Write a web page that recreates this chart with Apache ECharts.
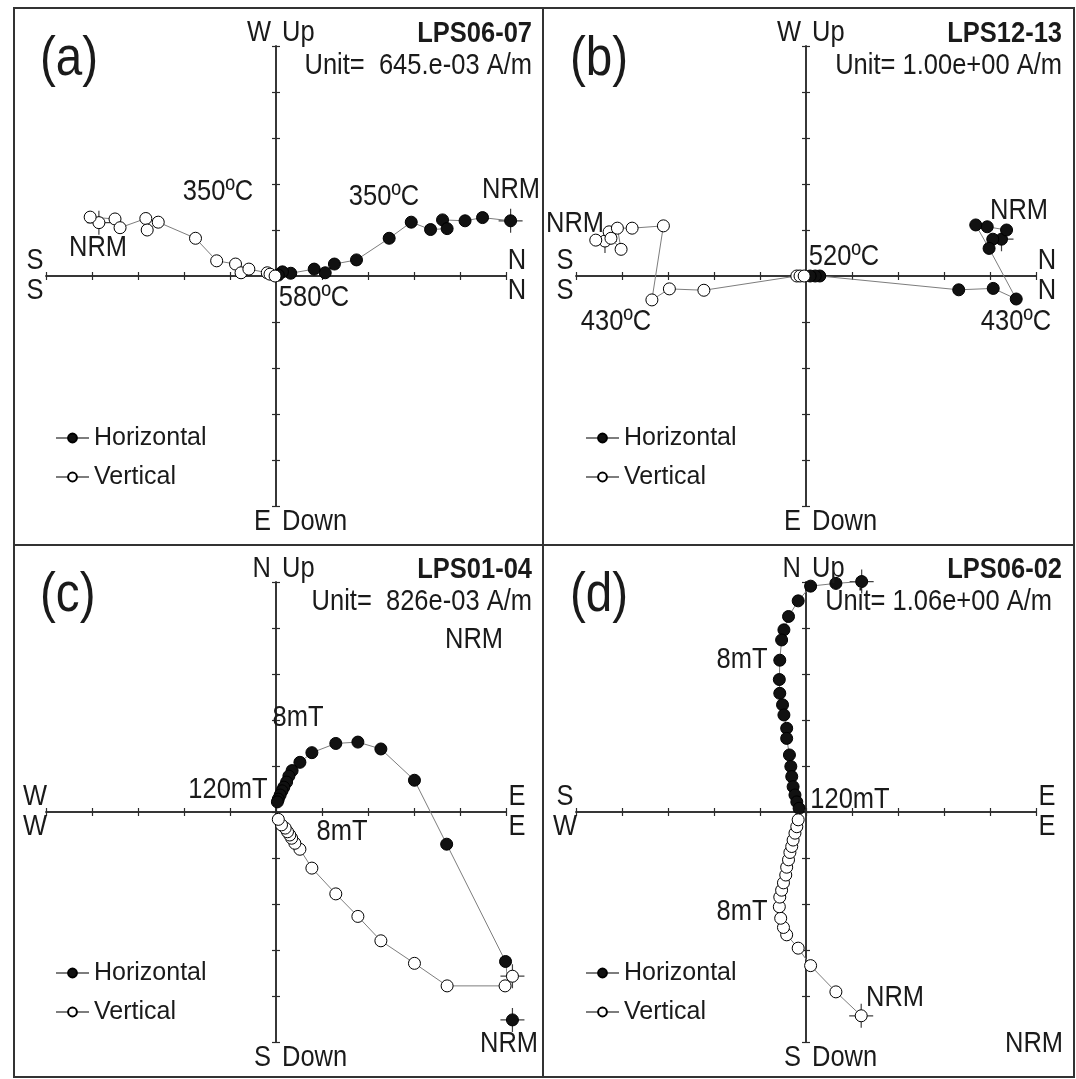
<!DOCTYPE html>
<html><head><meta charset="utf-8">
<script src="https://cdn.jsdelivr.net/npm/echarts@6/dist/echarts.min.js"></script>
<style>html,body{margin:0;padding:0;background:#fff}#c{width:1076px;height:1079px}</style>
</head><body><div id="c"></div>
<script>
const FONT = "'Liberation Sans',Arial,sans-serif";

// Panel (a) LPS06-07 : values in axis tick units
const aHoriz = [[5.10,1.20],[4.49,1.27],[4.11,1.20],[3.62,1.22],[3.72,1.03],[3.36,1.01],[2.94,1.17],[2.46,0.82],[1.75,0.35],[1.27,0.26],[1.07,0.07],[0.83,0.15],[0.32,0.06],[0.14,0.09],[0.05,0.02]];
const aVert  = [[-3.85,1.16],[-4.04,1.28],[-3.50,1.24],[-3.39,1.05],[-2.83,1.25],[-2.80,1.00],[-2.56,1.17],[-1.75,0.82],[-1.29,0.33],[-0.88,0.26],[-0.76,0.07],[-0.59,0.15],[-0.19,0.07],[-0.13,0.04],[-0.02,0.0]];
// Panel (b) LPS12-13
const bHoriz = [[4.25,0.80],[4.06,0.80],[4.36,1.00],[3.94,1.07],[3.69,1.11],[3.98,0.60],[4.57,-0.50],[4.07,-0.27],[3.32,-0.30],[0.30,0.0],[0.20,0.0],[0.09,0.0]];
const bVert  = [[-4.37,0.76],[-4.57,0.78],[-4.28,0.96],[-4.24,0.82],[-4.02,0.58],[-4.10,1.04],[-3.78,1.04],[-3.10,1.09],[-3.35,-0.52],[-2.97,-0.28],[-2.22,-0.31],[-0.20,0.0],[-0.13,0.0],[-0.04,0.0]];
// Panel (c) LPS01-04
const cHoriz = [[5.14,-4.52],[4.99,-3.25],[3.71,-0.70],[3.01,0.69],[2.28,1.37],[1.78,1.52],[1.30,1.49],[0.78,1.29],[0.52,1.08],[0.35,0.90],[0.28,0.78],[0.23,0.65],[0.17,0.54],[0.13,0.46],[0.09,0.37],[0.05,0.28],[0.03,0.22]];
const cVert  = [[5.14,-3.57],[4.98,-3.78],[3.72,-3.78],[3.01,-3.29],[2.28,-2.80],[1.78,-2.27],[1.30,-1.78],[0.78,-1.22],[0.52,-0.81],[0.41,-0.68],[0.34,-0.57],[0.30,-0.50],[0.25,-0.43],[0.20,-0.35],[0.12,-0.28],[0.05,-0.16]];
// Panel (d) LPS06-02
const dHoriz = [[1.21,5.01],[0.65,4.97],[0.10,4.91],[-0.17,4.59],[-0.38,4.25],[-0.48,3.96],[-0.53,3.74],[-0.57,3.30],[-0.58,2.88],[-0.57,2.58],[-0.51,2.33],[-0.48,2.11],[-0.42,1.82],[-0.42,1.60],[-0.36,1.24],[-0.33,0.99],[-0.31,0.77],[-0.28,0.55],[-0.24,0.37],[-0.20,0.22],[-0.15,0.08]];
const dVert  = [[1.20,-4.43],[0.65,-3.91],[0.10,-3.34],[-0.17,-2.96],[-0.42,-2.67],[-0.49,-2.51],[-0.55,-2.31],[-0.58,-2.06],[-0.57,-1.85],[-0.53,-1.70],[-0.49,-1.54],[-0.44,-1.37],[-0.42,-1.20],[-0.38,-1.04],[-0.35,-0.88],[-0.31,-0.75],[-0.28,-0.61],[-0.24,-0.46],[-0.20,-0.32],[-0.17,-0.17]];

const sampleNames = ['LPS06-07','LPS12-13','LPS01-04','LPS06-02'];
const panelTags = ['(a)','(b)','(c)','(d)'];
const unitTexts = ['Unit=  645.e-03 A/m','Unit= 1.00e+00 A/m','Unit=  826e-03 A/m','Unit= 1.06e+00 A/m'];
const axisEnds = [
  {up:['W','Up'], down:['E','Down'], left:['S','S'], right:['N','N']},
  {up:['W','Up'], down:['E','Down'], left:['S','S'], right:['N','N']},
  {up:['N','Up'], down:['S','Down'], left:['W','W'], right:['E','E']},
  {up:['N','Up'], down:['S','Down'], left:['S','W'], right:['E','E']}
];
const stepLabels = [
  [['350ºC',218,192],['NRM',98,248],['350ºC',384,197],['NRM',511,190],['580ºC',314,298]],
  [['NRM',575,224],['NRM',1019,211],['520ºC',844,257],['430ºC',616,322],['430ºC',1016,322]],
  [['NRM',474,640],['8mT',298,718],['120mT',228,790],['8mT',342,832],['NRM',509,1044]],
  [['8mT',742,660],['120mT',850,800],['8mT',742,912],['NRM',895,998],['NRM',1034,1044]]
];

const panels = [
  {cx:276, cy:276, h:aHoriz, v:aVert},
  {cx:806, cy:276, h:bHoriz, v:bVert},
  {cx:276, cy:812, h:cHoriz, v:cVert},
  {cx:806, cy:812, h:dHoriz, v:dVert}
];
const HALF = 230;
const PLUS = 'path://M0,11.4H24V12.6H0Z M11.4,0H12.6V24H11.4Z';
const AX = '#2a2a2a';
const NARROW = 0.85;

const grid = [], xAxis = [], yAxis = [], series = [], legend = [], graphic = [];
function axisDef(i, pos){
  return {gridIndex:i, type:'value', min:-5, max:5, interval:1, position:pos,
    axisLine:{show:true, onZero:true, lineStyle:{color:AX, width:1.5}},
    axisTick:{show:true, inside:false, length:4, lineStyle:{color:AX, width:1.2}},
    axisLabel:{show:false}, splitLine:{show:false}};
}
function txt(text, x, y, size, align, bold){
  graphic.push({type:'text', x:x, y:y, scaleX:NARROW, scaleY:1, z:50, silent:true, style:{text:text, fill:'#1a1a1a',
    font:(bold?'bold ':'')+size+'px '+FONT, textAlign:align||'center', align:align||'center',
    textVerticalAlign:'middle', verticalAlign:'middle'}});
}
panels.forEach((p,i)=>{
  grid.push({left:p.cx-HALF, top:p.cy-HALF, width:2*HALF, height:2*HALF});
  xAxis.push(axisDef(i,'bottom'), axisDef(i,'top'));
  yAxis.push(axisDef(i,'left'), axisDef(i,'right'));
  const xi = 2*i;
  series.push({type:'line', name:'Horizontal', xAxisIndex:xi, yAxisIndex:xi, data:p.h, clip:false,
    symbol:'circle', symbolSize:12, showSymbol:true, showAllSymbol:true,
    lineStyle:{color:'#7d7d7d', width:1}, itemStyle:{color:'#111', borderColor:'#000', borderWidth:1}, z:4});
  series.push({type:'line', name:'Vertical', xAxisIndex:xi, yAxisIndex:xi, data:p.v, clip:false,
    symbol:'circle', symbolSize:12, showSymbol:true, showAllSymbol:true,
    lineStyle:{color:'#7d7d7d', width:1}, itemStyle:{color:'#fff', borderColor:'#000', borderWidth:1}, z:5});
  series.push({type:'scatter', name:'NRMcross', xAxisIndex:xi, yAxisIndex:xi, data:[p.h[0], p.v[0]], clip:false,
    symbol:PLUS, symbolSize:24, itemStyle:{color:'#111'}, z:3, silent:true});
  const lx = (i%2===0) ? 55 : 585;
  const ly = (i<2) ? 424 : 959;
  legend.push({orient:'vertical', left:lx, top:ly, padding:0, data:['Horizontal','Vertical'], selectedMode:false,
    itemWidth:33, itemHeight:11, itemGap:11, textStyle:{fontFamily:FONT, fontSize:25, color:'#1a1a1a', lineHeight:28}});
  const ox = (i%2===0)?0:530, oy = (i<2)?0:536;
  txt(panelTags[i], 40+ox, 60+oy, 56, 'left');
  txt(sampleNames[i], 532+ox, 34+oy, 30, 'right', true);
  txt(unitTexts[i], (i===3?1052:532+ox), 66+oy, 30, 'right');
  const e = axisEnds[i];
  txt(e.up[0], p.cx-5, p.cy-HALF-13, 30, 'right');
  txt(e.up[1], p.cx+6, p.cy-HALF-13, 30, 'left');
  txt(e.down[0], p.cx-5, p.cy+HALF+16, 30, 'right');
  txt(e.down[1], p.cx+6, p.cy+HALF+16, 30, 'left');
  txt(e.left[0], p.cx-HALF-11, p.cy-15, 30, 'center');
  txt(e.left[1], p.cx-HALF-11, p.cy+15, 30, 'center');
  txt(e.right[0], p.cx+HALF+11, p.cy-15, 30, 'center');
  txt(e.right[1], p.cx+HALF+11, p.cy+15, 30, 'center');
  stepLabels[i].forEach(s=>txt(s[0], s[1], s[2], 30, 'center'));
});
graphic.push({type:'rect', z:60, silent:true, shape:{x:14, y:8, width:1060, height:1069},
  style:{fill:'none', stroke:'#333', lineWidth:2}});
graphic.push({type:'line', z:60, silent:true, shape:{x1:543, y1:8, x2:543, y2:1077}, style:{stroke:'#333', lineWidth:2}});
graphic.push({type:'line', z:60, silent:true, shape:{x1:14, y1:545, x2:1074, y2:545}, style:{stroke:'#333', lineWidth:2}});

const chart = echarts.init(document.getElementById('c'), null, {renderer:'canvas'});
chart.setOption({animation:false, backgroundColor:'#fff', grid, xAxis, yAxis, series, legend, graphic});
</script></body></html>
